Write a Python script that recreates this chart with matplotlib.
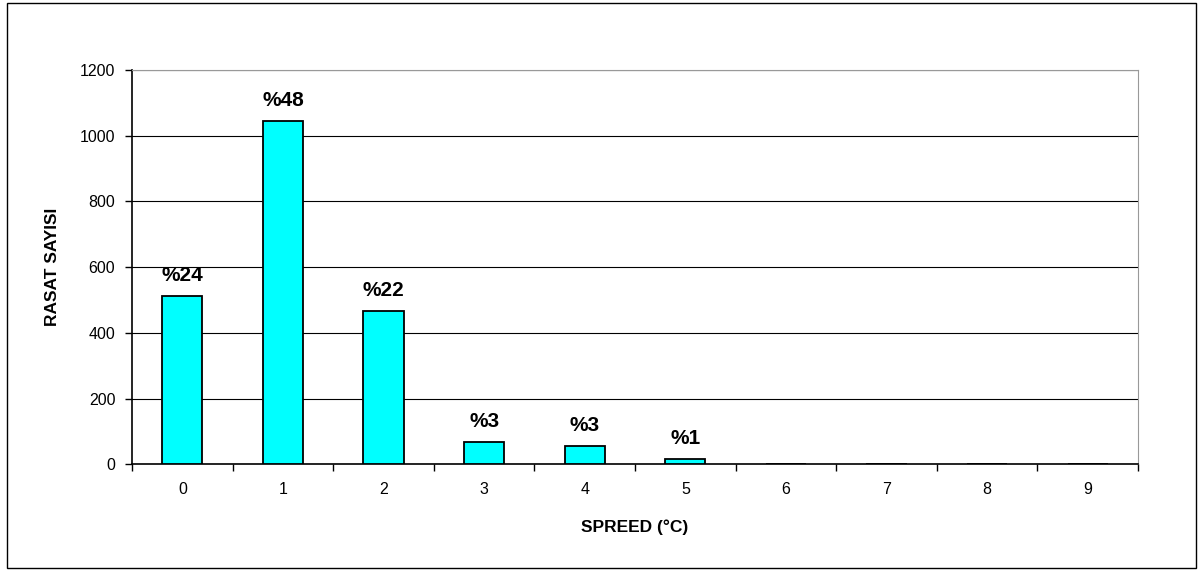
import matplotlib.pyplot as plt
from matplotlib.patches import Rectangle

plt.rcParams['font.family'] = ['Liberation Sans', 'DejaVu Sans']

spreads = [0, 1, 2, 3, 4, 5, 6, 7, 8, 9]
counts = [512, 1045, 467, 67, 56, 15, 0, 0, 0, 0]
percent_labels = ["%24", "%48", "%22", "%3", "%3", "%1", "", "", "", ""]
yticks = [0, 200, 400, 600, 800, 1000, 1200]

fig = plt.figure(figsize=(11.98, 5.70), dpi=100)
# outer frame round the whole chart
fig.patches.append(Rectangle((7 / 1198, 2 / 570), 1189 / 1198, 565 / 570,
                             transform=fig.transFigure, fill=False,
                             edgecolor="black", linewidth=1))

ax = fig.add_axes([0.1102, 0.1854, 0.8398, 0.6918])
ax.bar(spreads, counts, width=0.4, color="#00FFFF", edgecolor="black",
       linewidth=1.3, zorder=3)

for x, c, lab in zip(spreads, counts, percent_labels):
    if lab:
        ax.annotate(lab, (x, c), xytext=(0, 11), textcoords="offset points",
                    ha="center", va="baseline", fontsize=15,
                    fontweight="bold")

ax.set_xlim(-0.5, 9.5)
ax.set_ylim(0, 1200)
ax.set_yticks(yticks)
ax.yaxis.grid(True, color="black", linewidth=0.8, zorder=0)
ax.set_axisbelow(True)

ax.set_xticks(spreads)
ax.set_xticklabels([str(s) for s in spreads])
ax.tick_params(axis="x", length=0, pad=13, labelsize=11.5)
ax.set_xticks([s - 0.5 for s in spreads] + [9.5], minor=True)
ax.tick_params(axis="x", which="minor", length=5, width=1, direction="out")
ax.tick_params(axis="y", length=5, width=1, direction="out", labelsize=11.5,
               pad=7)

for side in ("top", "right"):
    ax.spines[side].set_color("#999999")
for side in ("left", "bottom"):
    ax.spines[side].set_color("black")
    ax.spines[side].set_linewidth(1.2)

ax.set_xlabel("SPREED (°C)", fontsize=12.5, fontweight="bold", labelpad=16)
ax.set_ylabel("RASAT SAYISI", fontsize=12.5, fontweight="bold", labelpad=14)

fig.savefig("out.png", dpi=100)
